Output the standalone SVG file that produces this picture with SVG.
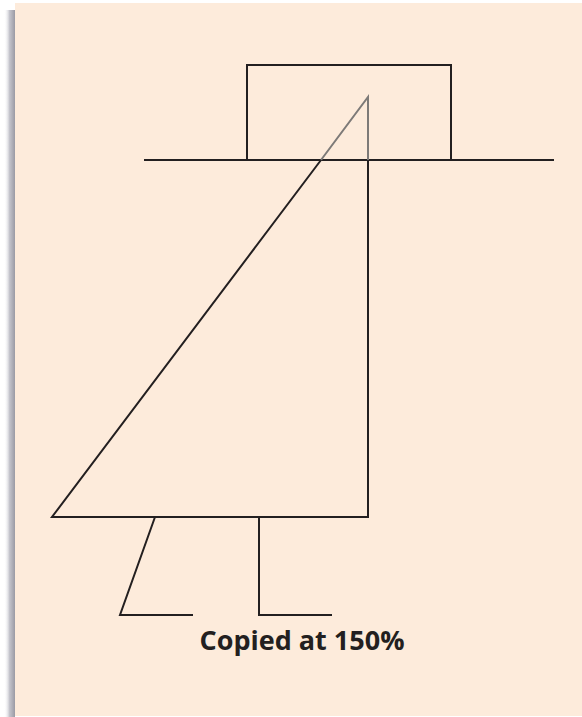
<svg xmlns="http://www.w3.org/2000/svg" width="582" height="717" viewBox="0 0 582 717">
<defs>
<linearGradient id="shadow" x1="0" y1="0" x2="1" y2="0">
<stop offset="0" stop-color="#ffffff" stop-opacity="0"/>
<stop offset="0.5" stop-color="#c4c4cc"/>
<stop offset="1" stop-color="#9a9aa4"/>
</linearGradient>
<style>
.ln{fill:none;stroke:#231f20;stroke-width:2;stroke-linejoin:miter;stroke-linecap:butt}
.gr{fill:none;stroke:#7d7a78;stroke-width:2}
.lbl{font-family:"Open Sans","Liberation Sans",sans-serif;font-weight:bold;font-size:27px;fill:#231f20}
</style>
</defs>
<rect x="0" y="0" width="582" height="717" fill="#ffffff"/>
<rect x="4" y="10" width="11" height="707" fill="url(#shadow)"/>
<rect x="15" y="3" width="567" height="713" fill="#fdebdb"/>
<g id="nodes">
<g id="box"><rect class="ln" x="247" y="65" width="204" height="95"/></g>
<g id="baseline"><line class="ln" x1="144" y1="160" x2="554" y2="160"/></g>
<g id="triangle-top"><polyline class="gr" points="321,160 368,97 368,160"/></g>
<g id="triangle"><polyline class="ln" points="321,160 52,517 368,517 368,160"/></g>
<g id="leg-left"><polyline class="ln" points="155,517 120,615 193,615"/></g>
<g id="leg-right"><polyline class="ln" points="259,517 259,615 332,615"/></g>
<g id="caption"><text class="lbl" x="302" y="650" text-anchor="middle">Copied at 150%</text></g>
</g>
<g id="connectors"/>
</svg>
